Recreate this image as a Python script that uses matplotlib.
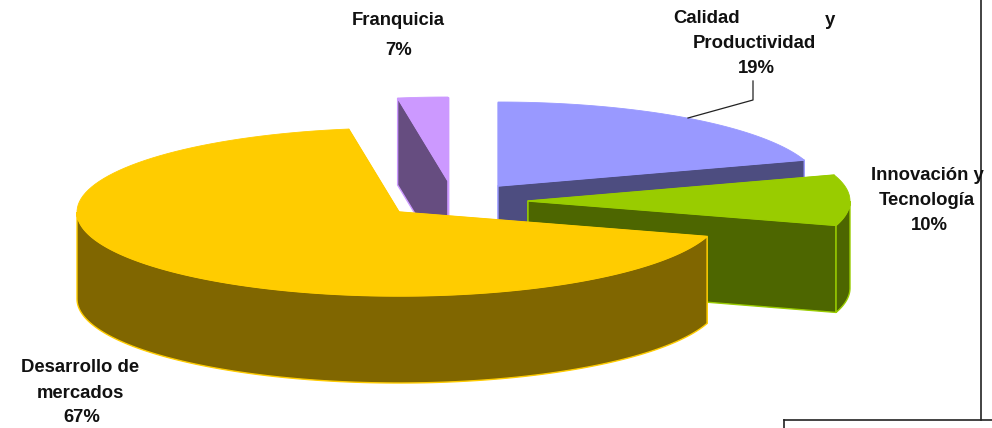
import numpy as np
import matplotlib
matplotlib.use("Agg")
import matplotlib.pyplot as plt
from matplotlib.patches import Polygon

# drawn shares (the slices do not follow the printed percentages exactly)
shares = [20.0, 9.7, 67.8, 2.5]
colors_top = ["#9999ff", "#99cc00", "#ffcc00", "#cc99ff"]
colors_wall = ["#4d4d80", "#4d6600", "#806600", "#664d80"]
apex_x = [498, 528, 399, 448]
apex_y = [186, 201, 212, 181]

start_angle = 90
rx, ry = 322, 84
depth = 87

# draw order, back to front
draw_order = [0, 3, 1, 2]

fig = plt.figure(figsize=(9.92, 4.28), dpi=100)
ax = fig.add_axes([0, 0, 1, 1])
ax.set_xlim(0, 992)
ax.set_ylim(428, 0)
ax.axis("off")

# angles go clockwise from the start
sweeps = np.array(shares) / sum(shares) * 360
ends = start_angle - np.cumsum(sweeps)
starts = ends + sweeps


def arc(i, a0, a1):
    t = np.radians(np.linspace(a0, a1, 120))
    return np.column_stack([apex_x[i] + rx * np.cos(t), apex_y[i] - ry * np.sin(t)])


def extrude(pts):
    low = pts[::-1] + [0, depth]
    return np.vstack([pts, low])


for z, i in enumerate(draw_order):
    base = z * 10 + 1
    apex = np.array([[apex_x[i], apex_y[i]]])
    # both cut faces, the top and outer wall hide whatever is behind
    for a in (starts[i], ends[i]):
        edge_pt = arc(i, a, a)[:1]
        wall = extrude(np.vstack([apex, edge_pt]))
        ax.add_patch(Polygon(wall, closed=True, facecolor=colors_wall[i], edgecolor=colors_top[i],
                             lw=1.0, zorder=base))
    # outer wall, only the part that faces the viewer
    lo = max(ends[i], -180)
    hi = min(starts[i], 0)
    if ends[i] < 0 and hi > lo:
        ax.add_patch(Polygon(extrude(arc(i, hi, lo)), closed=True, facecolor=colors_wall[i],
                             edgecolor=colors_top[i], lw=1.0, zorder=base + 1))
    top = np.vstack([apex, arc(i, starts[i], ends[i])])
    ax.add_patch(Polygon(top, closed=True, facecolor=colors_top[i], edgecolor=colors_top[i],
                         lw=0.6, zorder=base + 2))

# labels
label_font = dict(family="Liberation Sans", fontweight="bold", fontsize=13.3, color="#111111",
                  ha="center", va="center", zorder=60)
ax.text(398, 20, "Franquicia", **label_font)
ax.text(399, 50, "7%", **label_font)
ax.text(707, 18, "Calidad", **label_font)
ax.text(830, 20, "y", **label_font)
ax.text(754, 43, "Productividad", **label_font)
ax.text(756, 68, "19%", **label_font)
ax.text(927, 175, "Innovación y", **label_font)
ax.text(927, 200, "Tecnología", **label_font)
ax.text(929, 225, "10%", **label_font)
ax.text(80, 368, "Desarrollo de", **label_font)
ax.text(80, 393, "mercados", **label_font)
ax.text(82, 418, "67%", **label_font)

# leader line and the stray page frame
ax.plot([688, 753, 753], [118, 100, 81], color="#222222", lw=0.9, zorder=50)
ax.plot([981, 981], [0, 420], color="#222222", lw=1.2, zorder=55)
ax.plot([784, 784], [428, 420], color="#222222", lw=1.2, zorder=55)
ax.plot([784, 992], [420, 420], color="#222222", lw=1.2, zorder=55)

fig.savefig("out.png", dpi=100, facecolor="white")
